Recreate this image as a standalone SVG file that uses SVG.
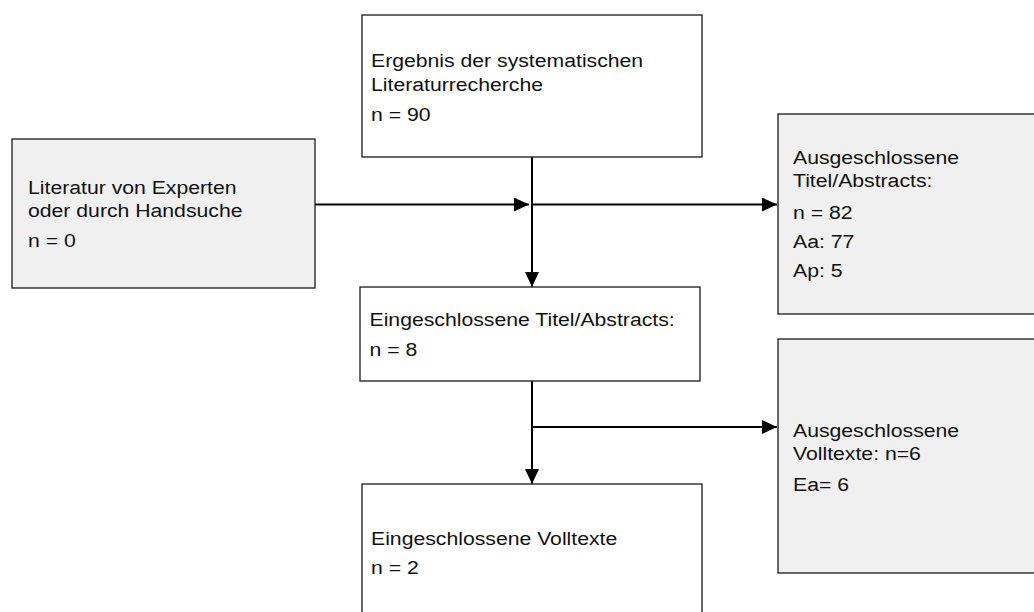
<svg xmlns="http://www.w3.org/2000/svg" width="1034" height="612" viewBox="0 0 1034 612">
  <style>
    .box { stroke: #1a1a1a; stroke-width: 1.3; }
    .plain { fill: #ffffff; }
    .grey { fill: #f0f0f0; }
    .lbl { font-family: "Liberation Sans", Arial, sans-serif; font-size: 19px; fill: #111111; }
    .wire { stroke: #000000; stroke-width: 2; fill: none; }
  </style>
  <defs>
    <marker id="head" viewBox="0 0 15 14" refX="15" refY="7" markerWidth="15" markerHeight="14" markerUnits="userSpaceOnUse" orient="auto">
      <path d="M0,0 L15,7 L0,14 Z" fill="#000000"/>
    </marker>
  </defs>
  <rect width="1034" height="612" fill="#ffffff"/>

  <g id="connectors">
    <line class="wire" x1="315" y1="204.5" x2="529" y2="204.5" marker-end="url(#head)"/>
    <line class="wire" x1="532" y1="157" x2="532" y2="287" marker-end="url(#head)"/>
    <line class="wire" x1="532" y1="204.5" x2="777" y2="204.5" marker-end="url(#head)"/>
    <line class="wire" x1="532" y1="381" x2="532" y2="484" marker-end="url(#head)"/>
    <line class="wire" x1="532" y1="427" x2="777" y2="427" marker-end="url(#head)"/>
  </g>

  <g id="node-handsearch">
    <rect class="box grey" x="12" y="139" width="303" height="149"/>
    <text class="lbl" transform="matrix(1.116,0,0,1,28,194)"><tspan x="0" y="0">Literatur von Experten</tspan><tspan x="0" y="23.5">oder durch Handsuche</tspan><tspan x="0" y="53.5">n = 0</tspan></text>
  </g>

  <g id="node-search">
    <rect class="box plain" x="362" y="15" width="340" height="142"/>
    <text class="lbl" transform="matrix(1.116,0,0,1,371,66.7)"><tspan x="0" y="0">Ergebnis der systematischen</tspan><tspan x="0" y="24">Literaturrecherche</tspan><tspan x="0" y="54">n = 90</tspan></text>
  </g>

  <g id="node-excluded-abstracts">
    <rect class="box grey" x="778" y="114" width="300" height="200"/>
    <text class="lbl" transform="matrix(1.116,0,0,1,793,163.5)"><tspan x="0" y="0">Ausgeschlossene</tspan><tspan x="0" y="24">Titel/Abstracts:</tspan><tspan x="0" y="55.5">n = 82</tspan><tspan x="0" y="85">Aa: 77</tspan><tspan x="0" y="114">Ap: 5</tspan></text>
  </g>

  <g id="node-included-abstracts">
    <rect class="box plain" x="360" y="287" width="340" height="94"/>
    <text class="lbl" transform="matrix(1.116,0,0,1,369.5,326)"><tspan x="0" y="0">Eingeschlossene Titel/Abstracts:</tspan><tspan x="0" y="30">n = 8</tspan></text>
  </g>

  <g id="node-excluded-fulltexts">
    <rect class="box grey" x="778" y="339" width="300" height="234"/>
    <text class="lbl" transform="matrix(1.116,0,0,1,793,436.7)"><tspan x="0" y="0">Ausgeschlossene</tspan><tspan x="0" y="23.5">Volltexte: n=6</tspan><tspan x="0" y="54">Ea= 6</tspan></text>
  </g>

  <g id="node-included-fulltexts">
    <rect class="box plain" x="362" y="484" width="340" height="140"/>
    <text class="lbl" transform="matrix(1.116,0,0,1,371,545)"><tspan x="0" y="0">Eingeschlossene Volltexte</tspan><tspan x="0" y="29.5">n = 2</tspan></text>
  </g>
</svg>
